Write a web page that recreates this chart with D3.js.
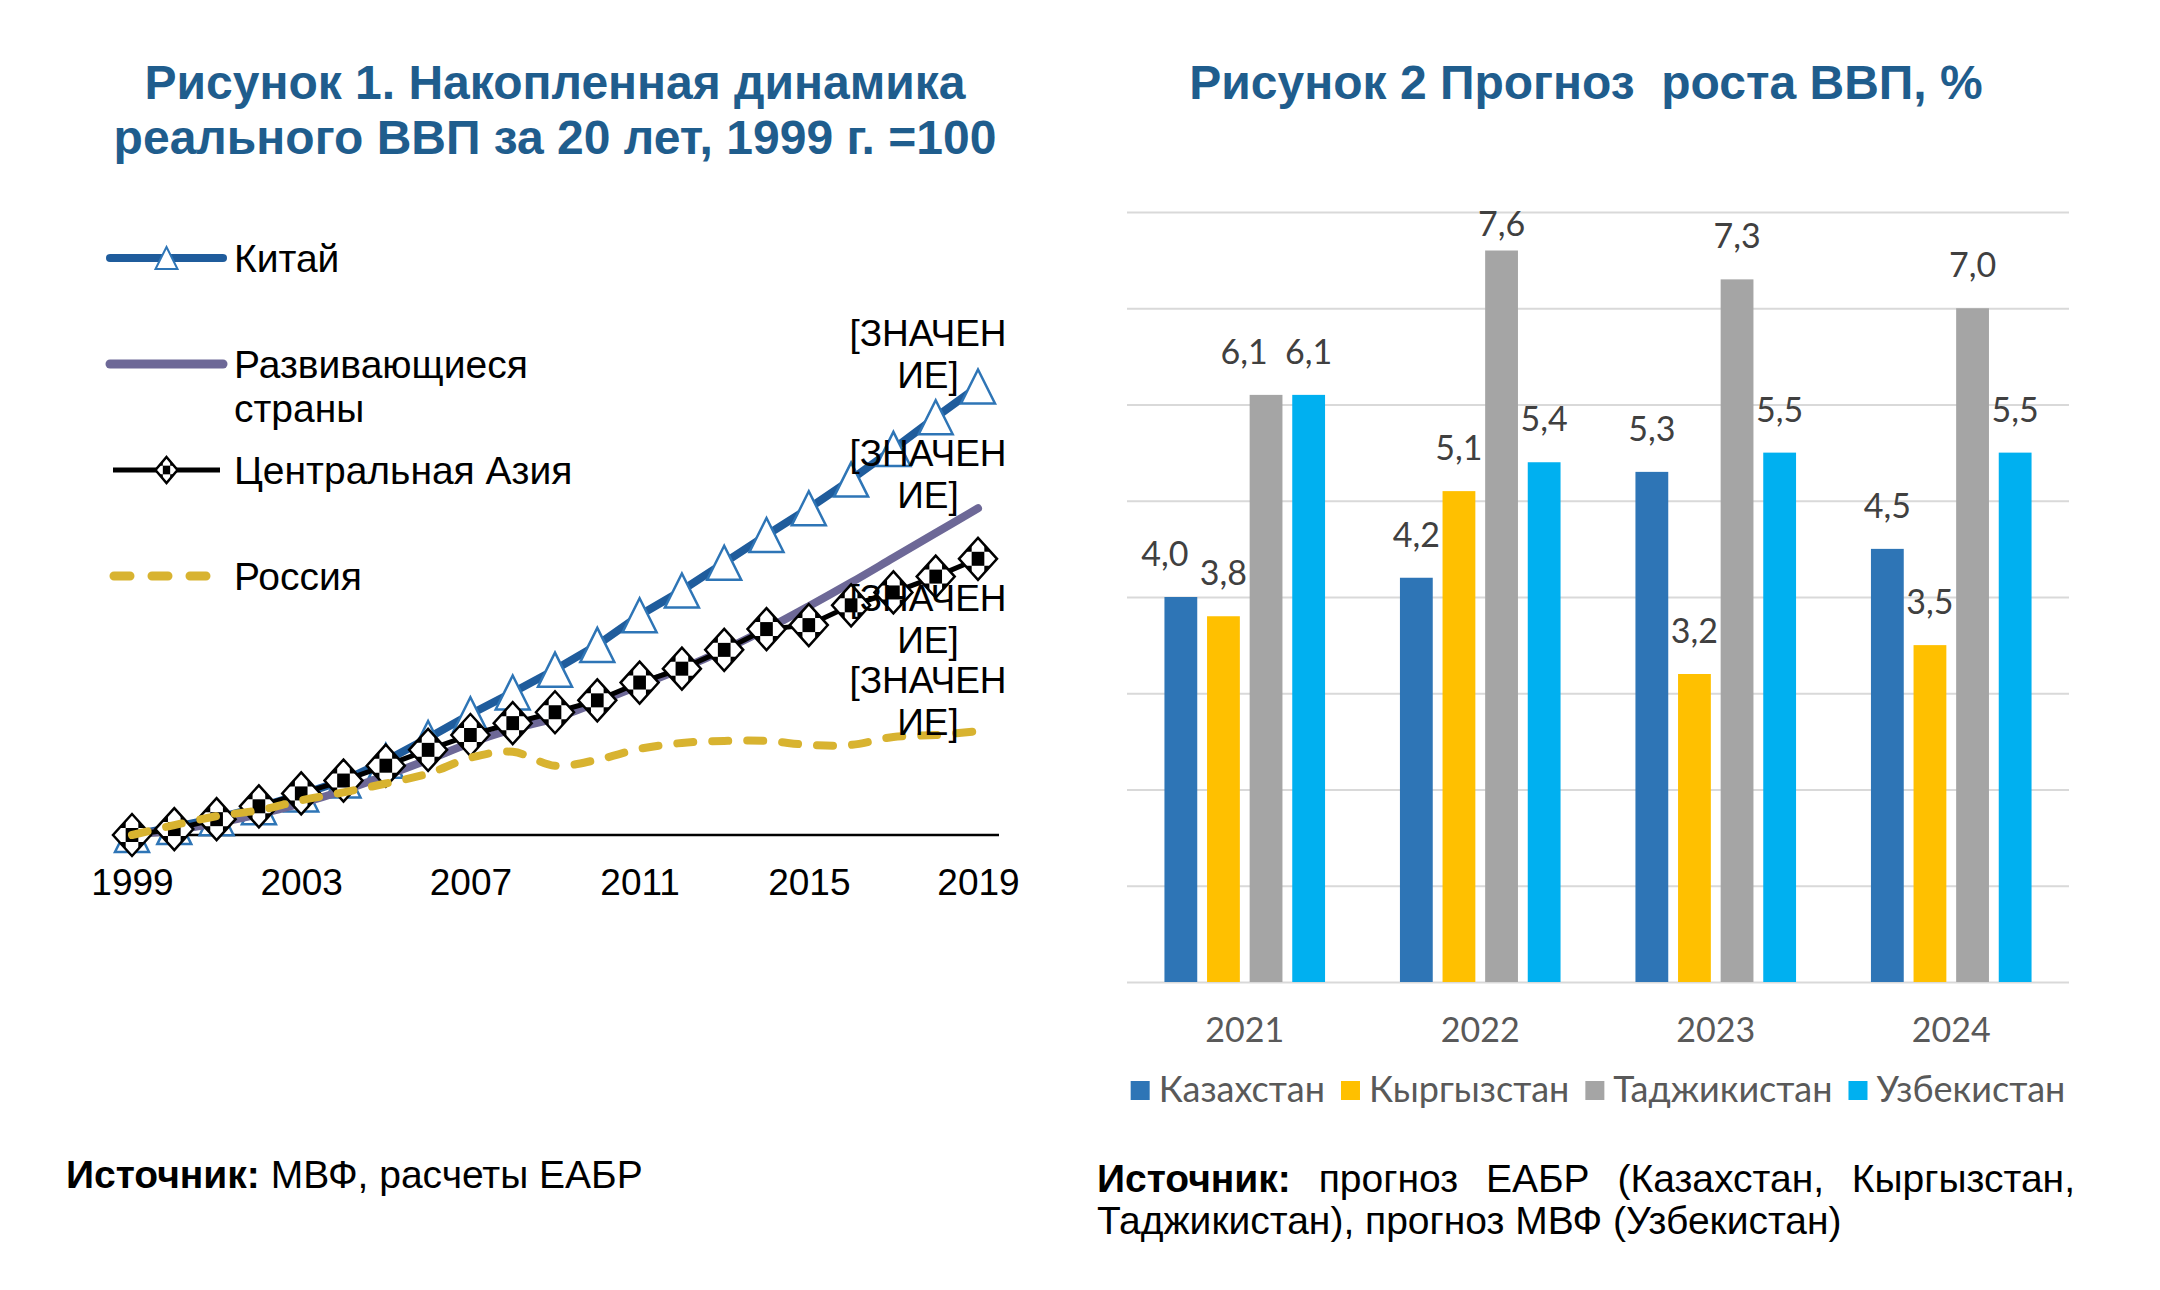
<!DOCTYPE html>
<html>
<head>
<meta charset="utf-8">
<script src="https://d3js.org/d3.v7.min.js"></script>
<style>
  body { margin: 0; background: #fff; }
</style>
</head>
<body>
<div id="chart"></div>
<script>
// ---------- Рисунок 1: накопленная динамика реального ВВП, 1999 = 100
const years = [1999, 2000, 2001, 2002, 2003, 2004, 2005, 2006, 2007, 2008, 2009,
               2010, 2011, 2012, 2013, 2014, 2015, 2016, 2017, 2018, 2019];
const yearTicks = [1999, 2003, 2007, 2011, 2015, 2019];
const china       = [100, 108, 117, 128, 141, 155, 175, 198, 222, 244, 267, 292, 322, 347, 375, 403, 430, 459, 490, 522, 553];
const emerging    = [100, 105, 112, 121, 132, 145, 160, 176, 193, 207, 218, 234, 251, 268, 287, 308, 331, 355, 380, 405, 430];
const centralAsia = [100, 106, 116, 129, 142, 155, 170, 186, 201, 213, 224, 236, 254, 268, 287, 308, 312, 332, 345, 361, 379];
const russia      = [100, 110, 119, 125, 135, 143, 152, 162, 178, 184, 170, 176, 187, 193, 195, 195, 191, 191, 199, 201, 205];
const lineNames   = [["Китай"], ["Развивающиеся", "страны"], ["Центральная Азия"], ["Россия"]];
const valueLabel  = ["[ЗНАЧЕН", "ИЕ]"];   // подпись данных, как на исходнике

// ---------- Рисунок 2: прогноз роста ВВП, %
const forecastYears = ["2021", "2022", "2023", "2024"];
const countries  = ["Казахстан", "Кыргызстан", "Таджикистан", "Узбекистан"];
const kazakhstan = [4.0, 4.2, 5.3, 4.5];
const kyrgyzstan = [3.8, 5.1, 3.2, 3.5];
const tajikistan = [6.1, 7.6, 7.3, 7.0];
const uzbekistan = [6.1, 5.4, 5.5, 5.5];

////////////////////////////////////////////////////////////////////////

const W = 2160, H = 1290;
const leftFont = "'Liberation Sans', Arial, sans-serif";
const rightFont = "Lato, 'Open Sans', sans-serif";
const titleColor = "#1f5d8d";

const svg = d3.select("#chart").append("svg")
    .attr("width", W).attr("height", H)
    .style("background", "#fff");

function addText(x, y, str, size, opts = {}) {
    return svg.append("text")
        .attr("x", x).attr("y", y)
        .attr("text-anchor", opts.anchor || "start")
        .attr("font-family", opts.font || leftFont)
        .attr("font-size", size)
        .attr("font-weight", opts.weight || "normal")
        .attr("fill", opts.fill || "#000")
        .style("white-space", "pre")
        .text(str);
}

// titles
addText(555, 99, "Рисунок 1. Накопленная динамика", 48, {anchor: "middle", weight: "bold", fill: titleColor});
addText(555, 154, "реального ВВП за 20 лет, 1999 г. =100", 48, {anchor: "middle", weight: "bold", fill: titleColor});
addText(1586, 99, "Рисунок 2 Прогноз  роста ВВП, %", 48, {anchor: "middle", weight: "bold", fill: titleColor});

////////////////////////////////////////////////////////////////////////
// left chart

const x1 = d3.scaleLinear().domain([1999, 2019]).range([132, 978]);
const y1 = d3.scaleLinear().domain([100, 600]).range([835, 340]);

const xAxis = svg.append("g")
    .attr("transform", `translate(0,${y1(100)})`)
    .call(d3.axisBottom(x1).tickValues(yearTicks).tickFormat(d3.format("d")).tickSize(0).tickPadding(34));
xAxis.select(".domain").remove();
xAxis.selectAll("text").attr("font-family", leftFont).attr("font-size", 37).attr("fill", "#000");

svg.append("line")
    .attr("x1", x1(1999) - 18).attr("x2", x1(2019) + 21)
    .attr("y1", y1(100)).attr("y2", y1(100))
    .attr("stroke", "#000").attr("stroke-width", 2.5);

const chinaColor = "#1f5c9c", triColor = "#2e75b6", emColor = "#6d6897", caColor = "#000", ruColor = "#d8b330";

function triPath(w, h) { return `M0,${-h / 2}L${w / 2},${h / 2}L${-w / 2},${h / 2}Z`; }

function drawDiamond(g, rx, ry) {
    const d = `M0,${-ry}L${rx},0L0,${ry}L${-rx},0Z`;
    g.append("path").attr("d", d).attr("fill", "#fff");
    g.append("rect").attr("x", -rx / 3).attr("y", -ry / 3)
        .attr("width", 2 * rx / 3).attr("height", 2 * ry / 3).attr("fill", "#000");
    [-1, 1].forEach(sx => [-1, 1].forEach(sy => {
        g.append("path")
            .attr("d", `M${sx * rx / 3},${sy * ry / 3}L${sx * 2 * rx / 3},${sy * ry / 3}L${sx * rx / 3},${sy * 2 * ry / 3}Z`)
            .attr("fill", "#000");
    }));
    g.append("path").attr("d", d).attr("fill", "none").attr("stroke", "#000").attr("stroke-width", 2.5);
}

const lineStraight = d3.line().x((d, i) => x1(years[i])).y(d => y1(d));
const lineSmooth = d3.line().x((d, i) => x1(years[i])).y(d => y1(d)).curve(d3.curveCatmullRom);

// Китай
svg.append("path").datum(china).attr("d", lineStraight)
    .attr("fill", "none").attr("stroke", chinaColor).attr("stroke-width", 8).attr("stroke-linejoin", "round");
svg.append("g").selectAll("path").data(china).join("path")
    .attr("transform", (d, i) => `translate(${x1(years[i])},${y1(d)})`)
    .attr("d", triPath(34, 34))
    .attr("fill", "#fff").attr("stroke", triColor).attr("stroke-width", 2.5);

// Развивающиеся страны
svg.append("path").datum(emerging).attr("d", lineSmooth)
    .attr("fill", "none").attr("stroke", emColor).attr("stroke-width", 8).attr("stroke-linecap", "round");

// Центральная Азия
svg.append("path").datum(centralAsia).attr("d", lineStraight)
    .attr("fill", "none").attr("stroke", caColor).attr("stroke-width", 5);
svg.append("g").selectAll("g").data(centralAsia).join("g")
    .attr("transform", (d, i) => `translate(${x1(years[i])},${y1(d)})`)
    .each(function () { drawDiamond(d3.select(this), 19, 21); });

// Россия
svg.append("path").datum(russia).attr("d", lineSmooth)
    .attr("fill", "none").attr("stroke", ruColor).attr("stroke-width", 8)
    .attr("stroke-dasharray", "16 19").attr("stroke-linecap", "round");

// подписи последних точек
const lastValues = [china, emerging, centralAsia, russia].map(s => s[s.length - 1]);
const labelDy = [-54, -55, 39, -51];
lastValues.forEach((v, k) => {
    valueLabel.forEach((t, j) => {
        addText(x1(2019) - 50, y1(v) + labelDy[k] + 13 + j * 42, t, 37, {anchor: "middle"});
    });
});

// легенда
const legY = [258, 364, 470, 576];
const lgX0 = 110, lgX1 = 223;
svg.append("line").attr("x1", lgX0).attr("x2", lgX1).attr("y1", legY[0]).attr("y2", legY[0])
    .attr("stroke", chinaColor).attr("stroke-width", 8).attr("stroke-linecap", "round");
svg.append("path").attr("transform", `translate(${(lgX0 + lgX1) / 2},${legY[0]})`)
    .attr("d", triPath(22, 22)).attr("fill", "#fff").attr("stroke", triColor).attr("stroke-width", 2);
svg.append("line").attr("x1", lgX0).attr("x2", lgX1).attr("y1", legY[1]).attr("y2", legY[1])
    .attr("stroke", emColor).attr("stroke-width", 9).attr("stroke-linecap", "round");
svg.append("line").attr("x1", lgX0 + 3).attr("x2", lgX1 - 3).attr("y1", legY[2]).attr("y2", legY[2])
    .attr("stroke", caColor).attr("stroke-width", 5);
drawDiamond(svg.append("g").attr("transform", `translate(${(lgX0 + lgX1) / 2},${legY[2]})`), 11, 13);
svg.append("line").attr("x1", lgX0 + 4).attr("x2", lgX1).attr("y1", legY[3]).attr("y2", legY[3])
    .attr("stroke", ruColor).attr("stroke-width", 9)
    .attr("stroke-dasharray", "16 22").attr("stroke-linecap", "round");

lineNames.forEach((lines, k) => {
    lines.forEach((t, j) => addText(234, legY[k] + 14 + j * 44, t, 39));
});

////////////////////////////////////////////////////////////////////////
// right chart

const x0 = d3.scaleBand().domain(forecastYears).range([1127, 2069]).paddingInner(0.318).paddingOuter(0.159);
const xs = d3.scaleBand().domain(countries).range([0, x0.bandwidth()]).paddingInner(0.23);
const y2 = d3.scaleLinear().domain([0, 8]).range([982, 212]);
const barColors = d3.scaleOrdinal().domain(countries).range(["#2e75b6", "#ffc000", "#a5a5a5", "#00b0f0"]);
const barSeries = [kazakhstan, kyrgyzstan, tajikistan, uzbekistan];
// сдвиг подписей, чтобы не налезали друг на друга (как в исходнике)
const labelNudge = {"2021|Казахстан": -16, "2021|Таджикистан": -22};

const grid = svg.append("g")
    .attr("transform", "translate(1127,0)")
    .call(d3.axisLeft(y2).ticks(8).tickSize(-(2069 - 1127)).tickFormat(""));
grid.select(".domain").remove();
grid.selectAll("line").attr("stroke", "#d9d9d9").attr("stroke-width", 2);

const barData = [];
forecastYears.forEach((yr, i) => {
    countries.forEach((c, k) => barData.push({year: yr, country: c, value: barSeries[k][i]}));
});

svg.append("g").selectAll("rect").data(barData).join("rect")
    .attr("x", d => x0(d.year) + xs(d.country))
    .attr("y", d => y2(d.value))
    .attr("width", xs.bandwidth())
    .attr("height", d => y2(0) - y2(d.value))
    .attr("fill", d => barColors(d.country));

const fmt = v => d3.format(".1f")(v).replace(".", ",");
svg.append("g").selectAll("text").data(barData).join("text")
    .attr("x", d => x0(d.year) + xs(d.country) + xs.bandwidth() / 2 + (labelNudge[d.year + "|" + d.country] || 0))
    .attr("y", d => Math.max(y2(d.value) - 43, y2(8) + 12) + 12)
    .attr("text-anchor", "middle")
    .attr("font-family", rightFont).attr("font-size", 34).attr("fill", "#404040")
    .text(d => fmt(d.value));

const xAxis2 = svg.append("g")
    .attr("transform", `translate(0,${y2(0)})`)
    .call(d3.axisBottom(x0).tickSize(0).tickPadding(36));
xAxis2.select(".domain").remove();
xAxis2.selectAll("text").attr("font-family", rightFont).attr("font-size", 34).attr("fill", "#595959");

// легенда справа
const legend2 = svg.append("g");
let lx = 0;
countries.forEach((c, k) => {
    const g = legend2.append("g").attr("transform", `translate(${lx},0)`);
    g.append("rect").attr("x", 0).attr("y", -9).attr("width", 19).attr("height", 19).attr("fill", barColors(c));
    const t = g.append("text").attr("x", 28).attr("y", 12)
        .attr("font-family", rightFont).attr("font-size", 36).attr("fill", "#595959").text(c);
    lx += 28 + t.node().getComputedTextLength() + 16;
});
lx -= 16;
legend2.attr("transform", `translate(${(1127 + 2069) / 2 - lx / 2},1090)`);

////////////////////////////////////////////////////////////////////////
// источники

function sourceLine(x, y, parts, size, width) {
    // parts: [[text, bold]] ; если задана ширина — выравнивание по ширине
    const t = svg.append("text").attr("x", x).attr("y", y)
        .attr("font-family", leftFont).attr("font-size", size).attr("fill", "#000");
    const spans = parts.map(([s, b]) => t.append("tspan").attr("font-weight", b ? "bold" : "normal").text(s));
    if (width) {
        const total = d3.sum(spans, s => s.node().getComputedTextLength());
        const gap = (width - total) / (spans.length - 1);
        let cx = x;
        spans.forEach(s => { s.attr("x", cx); cx += s.node().getComputedTextLength() + gap; });
    }
    return t;
}

sourceLine(66, 1188, [["Источник:", true], [" МВФ, расчеты ЕАБР", false]], 39);
sourceLine(1097, 1192, [["Источник:", true], ["прогноз", false], ["ЕАБР", false], ["(Казахстан,", false], ["Кыргызстан,", false]], 39, 2075 - 1097);
sourceLine(1097, 1234, [["Таджикистан), прогноз МВФ (Узбекистан)", false]], 39);
</script>
</body>
</html>
